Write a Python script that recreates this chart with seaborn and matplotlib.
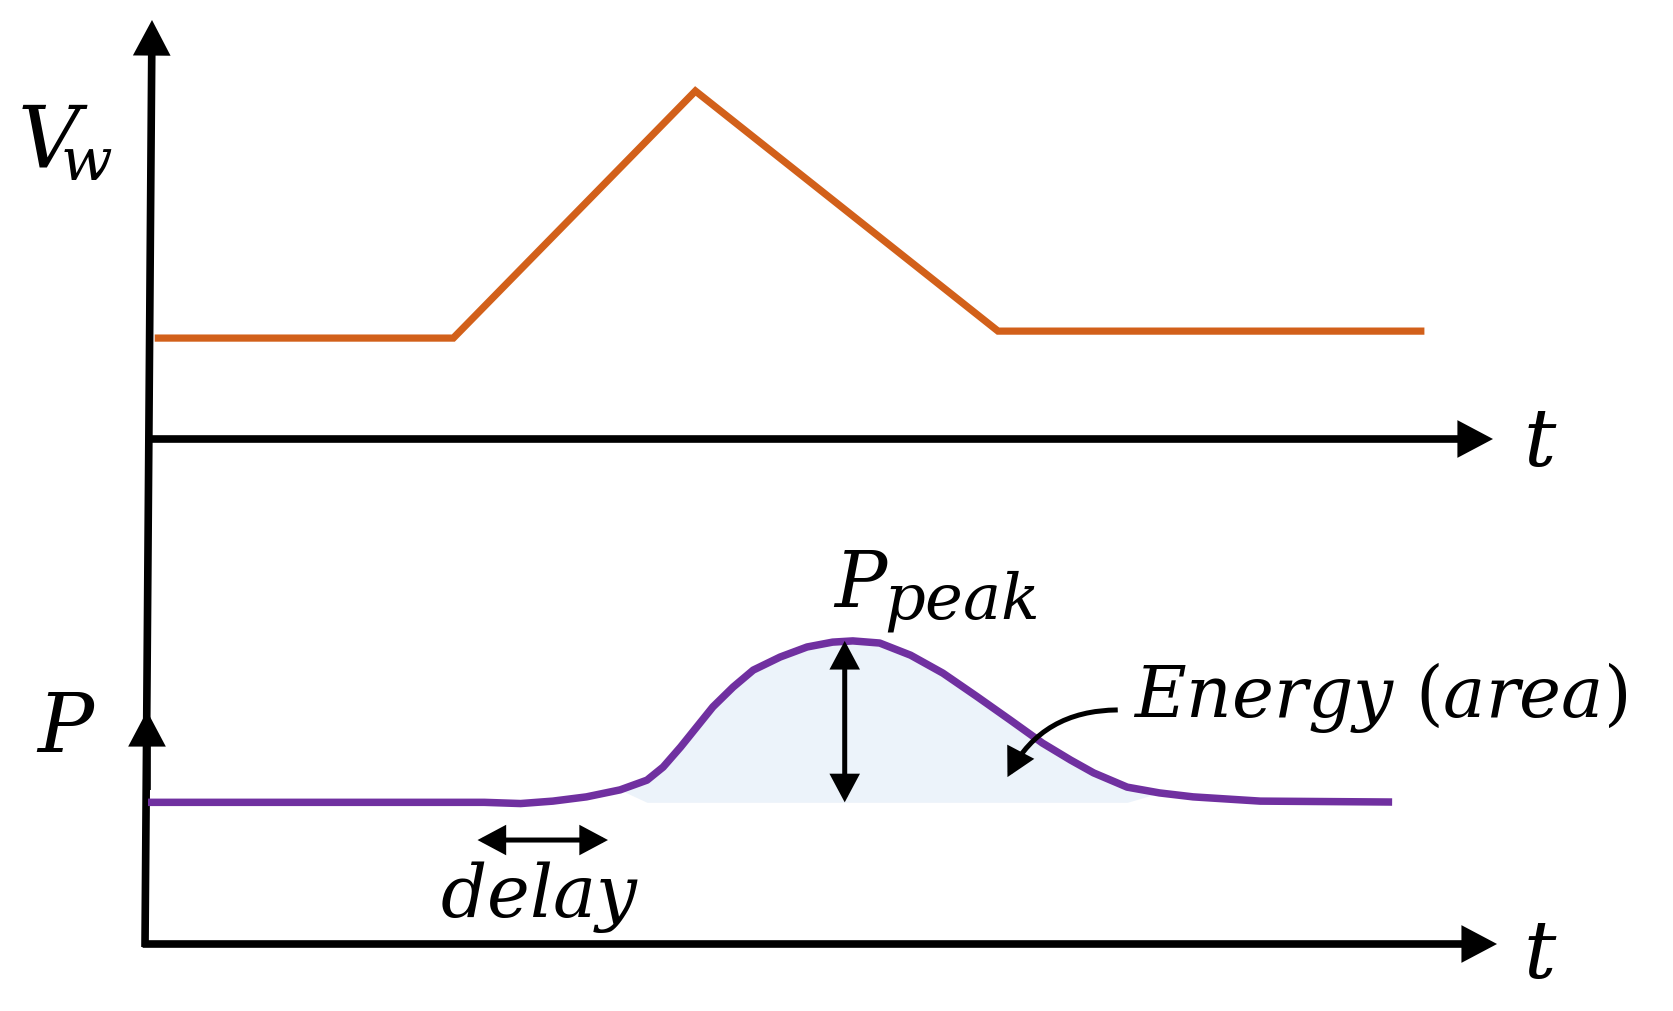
import matplotlib
matplotlib.use('Agg')
import pandas as pd
import matplotlib.pyplot as plt
import seaborn as sns

# Wind speed trace V_w (top panel), arbitrary units
vw_time = [0.05, 2.27, 4.07, 6.32, 9.49]
vw_level = [0.29, 0.29, 1.0, 0.31, 0.31]

# Power trace P (bottom panel), arbitrary units
p_time = [0.0, 2.5, 2.77, 3.01, 3.26, 3.51, 3.71, 3.83, 3.96, 4.08, 4.20, 4.35,
          4.50, 4.70, 4.90, 5.09, 5.24, 5.44, 5.67, 5.91, 6.16, 6.41, 6.65, 6.86,
          7.03, 7.28, 7.52, 7.77, 8.27, 9.25]
p_level = [0.466, 0.466, 0.462, 0.470, 0.484, 0.507, 0.539, 0.582, 0.648, 0.714,
           0.780, 0.845, 0.901, 0.944, 0.977, 0.993, 0.997, 0.990, 0.950, 0.891,
           0.815, 0.737, 0.661, 0.605, 0.563, 0.516, 0.497, 0.484, 0.470, 0.467]

p_base = 0.466
p_peak = 0.997
t_peak = 5.18
delay_start, delay_end = 2.45, 3.42
energy_from = (7.21, 0.770)
energy_to = (6.39, 0.549)

vw_df = pd.DataFrame({'t': vw_time, 'V_w': vw_level})
p_df = pd.DataFrame({'t': p_time, 'P': p_level})

sns.set_theme(style='white')
plt.rcParams['mathtext.fontset'] = 'dejavuserif'

W, H = 1673, 1011
fig = plt.figure(figsize=(W / 100, H / 100), dpi=100)
x0, x1 = 148 / W, 1493 / W
ax_top = fig.add_axes([x0, 1 - 480 / H, x1 - x0, 480 / H])
ax_bot = fig.add_axes([x0, 0, x1 - x0, 531 / H])
for ax in (ax_top, ax_bot):
    ax.patch.set_alpha(0)

sns.lineplot(data=vw_df, x='t', y='V_w', ax=ax_top, color='#D2601A', lw=5.2,
             solid_capstyle='butt', solid_joinstyle='miter')
sns.lineplot(data=p_df, x='t', y='P', ax=ax_bot, color='#7030A0', lw=5.4,
             solid_capstyle='butt', solid_joinstyle='round')
mask = [(t > 3.55) and (t < 7.35) for t in p_time]
ax_bot.fill_between(p_time, p_level, p_base, where=mask, color='#ECF3FA',
                    zorder=0, lw=0, interpolate=True)

ax_top.set_xlim(0, 10)
ax_top.set_ylim(-41 / 348, 439 / 348)
ax_bot.set_xlim(0, 10)
ax_bot.set_ylim(-67 / 304, 464 / 304)
ax_top.axis('off')
ax_bot.axis('off')


def arrow(ax, start, end, lw=5.5, hl=0.85, hw=0.45, both=False, cs='arc3', coords='data'):
    style = ('<|-|>' if both else '-|>') + f',head_length={hl},head_width={hw}'
    ax.annotate('', xy=end, xytext=start, xycoords=coords, textcoords=coords,
                annotation_clip=False,
                arrowprops=dict(arrowstyle=style, color='black', lw=lw,
                                shrinkA=0, shrinkB=0, connectionstyle=cs,
                                mutation_scale=20, joinstyle='miter',
                                capstyle='butt'))


# axes drawn as arrows
arrow(ax_top, (145 / W, 1 - 947 / H), (152 / W, 1 - 20 / H), coords='figure fraction')
arrow(ax_top, (147 / W, 1 - 790 / H), (147 / W, 1 - 711 / H), coords='figure fraction')
arrow(ax_top, (0.0, 0), (10.0, 0))
arrow(ax_bot, (-0.04, 0), (10.03, 0))

# annotations
arrow(ax_bot, (t_peak, p_base), (t_peak, p_peak), lw=3.6, hl=0.75, hw=0.4, both=True)
arrow(ax_bot, (delay_start, 0.342), (delay_end, 0.342), lw=3.6, hl=0.75, hw=0.4, both=True)
arrow(ax_bot, energy_from, energy_to, lw=3.6, hl=0.75, hw=0.4, cs='arc3,rad=0.3')

txt = dict(color='black', ha='left', va='baseline')
ax_top.text(-0.974, 0.779, r'$V_{\!\!w}$', fontsize=62, **txt)
ax_top.text(10.22, -0.078, r'$t$', fontsize=58, **txt)
ax_bot.text(10.22, -0.112, r'$t$', fontsize=58, **txt)
ax_bot.text(-0.83, 0.632, r'$P$', fontsize=60, **txt)
ax_bot.text(5.09, 1.11, r'$P$', fontsize=56, **txt)
ax_bot.text(5.47, 1.07, r'$peak$', fontsize=46, **txt)
ax_bot.text(7.32, 0.747, r'$Energy\ (area)$', fontsize=51, **txt)
ax_bot.text(2.91, 0.089, r'$delay$', fontsize=52, color='black', ha='center', va='baseline')

fig.savefig('out.png', dpi=100, facecolor='white')
